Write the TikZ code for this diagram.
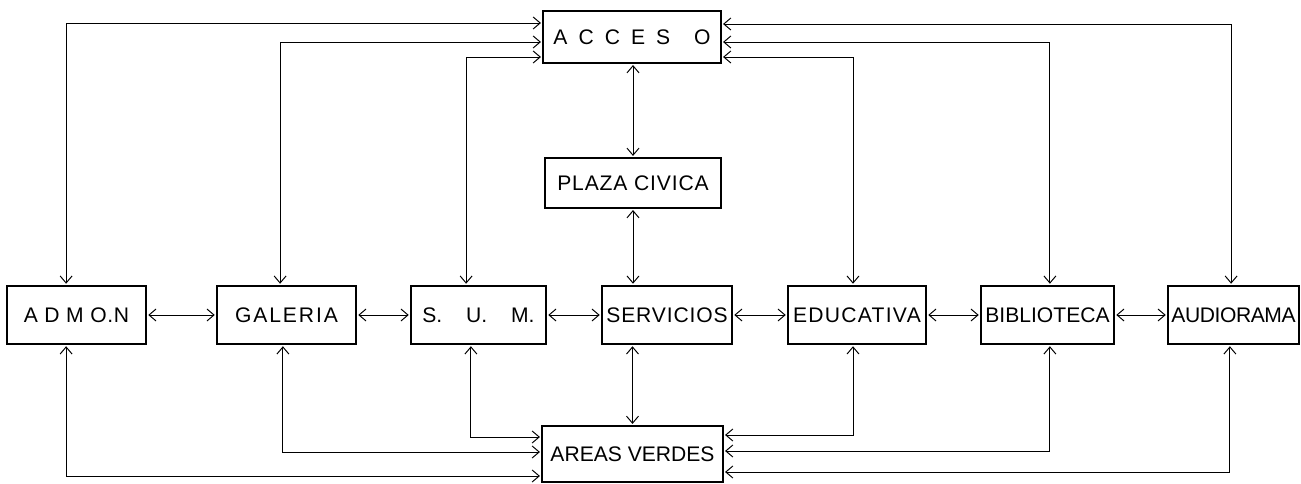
\documentclass[tikz,border=0pt]{standalone}
\usepackage{fontspec}
\setmainfont{Liberation Sans}
\usetikzlibrary{arrows.meta}

\begin{document}
\begin{tikzpicture}[x=0.25mm, y=-0.25mm, >={Straight Barb[length=5pt,width=8.5pt]},
  font=\fontsize{15}{17}\selectfont,
  box/.style={draw, line width=1.2pt, minimum height=14.5mm, inner sep=1pt},
  thinbox/.style={box, line width=0.9pt},
  ls/.style={font=\fontsize{15}{17}\selectfont\addfontfeatures{LetterSpace=#1}},
  link/.style={<->, line width=0.7pt, shorten <=1pt, shorten >=1pt}]
\useasboundingbox (0,0) rectangle (1301,484);
\node[thinbox, minimum width=44.5mm, minimum height=13mm] (acceso) at (632,37)
  {A \hspace{1.3mm}C \hspace{1.3mm}C \hspace{1.3mm}E \hspace{1.3mm}S \hspace{4.5mm}O};
\node[thinbox, ls=4, minimum width=44mm, minimum height=12.5mm] (plaza) at (633,183) {PLAZA CIVICA};
\node[box, ls=3, minimum width=34.75mm] (admon) at (76.5,315) {A D M O.N};
\node[box, ls=9, minimum width=34.75mm] (galeria) at (286.5,315) {GALERIA};
\node[box, minimum width=33.75mm] (sum) at (478.5,315) {S. \hspace{4.5mm}U. \hspace{4.5mm}M.};
\node[box, ls=4, minimum width=32.5mm] (servicios) at (667,315) {SERVICIOS};
\node[box, ls=6, minimum width=34.5mm] (educativa) at (857,315) {EDUCATIVA};
\node[box, minimum width=33.25mm] (biblioteca) at (1047.5,315) {BIBLIOTECA};
\node[box, ls=-2, minimum width=32.75mm] (audiorama) at (1233.5,315) {AUDIORAMA};
\node[thinbox, minimum width=45.25mm, minimum height=14mm] (areas) at (632.5,454) {AREAS VERDES};
% fila central
\draw[link] (admon.east) -- (galeria.west);
\draw[link] (galeria.east) -- (sum.west);
\draw[link] (sum.east) -- (servicios.west);
\draw[link] (servicios.east) -- (educativa.west);
\draw[link] (educativa.east) -- (biblioteca.west);
\draw[link] (biblioteca.east) -- (audiorama.west);
% eje vertical
\draw[link] (acceso.south -| plaza.north) -- (plaza.north);
\draw[link] (plaza.south) -- (plaza.south |- servicios.north);
\draw[link] (servicios.south -| areas.north) -- (areas.north);
% acceso
\draw[link] ([yshift=3.5mm]acceso.west) -| ([xshift=-2.6mm]admon.north);
\draw[link] ([yshift=-1.25mm]acceso.west) -| ([xshift=-1.6mm]galeria.north);
\draw[link] ([yshift=-5mm]acceso.west) -| ([xshift=-3.1mm]sum.north);
\draw[link] ([yshift=3.25mm]acceso.east) -| ([xshift=-0.6mm]audiorama.north);
\draw[link] ([yshift=-1.25mm]acceso.east) -| ([xshift=0.6mm]biblioteca.north);
\draw[link] ([yshift=-5mm]acceso.east) -| ([xshift=-1mm]educativa.north);
% areas verdes
\draw[link] ([yshift=-5.5mm]areas.west) -| ([xshift=-2.6mm]admon.south);
\draw[link] ([yshift=0.5mm]areas.west) -| ([xshift=-0.9mm]galeria.south);
\draw[link] ([yshift=4.25mm]areas.west) -| ([xshift=-1.9mm]sum.south);
\draw[link] ([yshift=4.75mm]areas.east) -| ([xshift=-1mm]educativa.south);
\draw[link] ([yshift=0.75mm]areas.east) -| ([xshift=0.6mm]biblioteca.south);
\draw[link] ([yshift=-4.5mm]areas.east) -| ([xshift=-0.9mm]audiorama.south);
\end{tikzpicture}
\end{document}
